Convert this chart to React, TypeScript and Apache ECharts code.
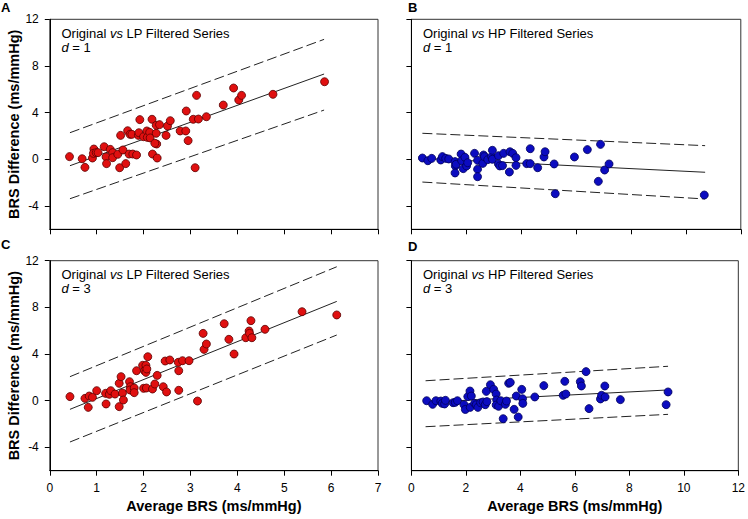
import React, { useEffect, useRef } from "react";
import * as echarts from "echarts";

// Panel A: Original vs LP filtered, d = 1
const aPoints: number[][] = [
  [0.42, 0.23], [0.69, 0.05], [0.75, -0.69], [0.91, 0.11], [0.94, 0.88], [0.93, 0.51], [0.99, 0.57],
  [1.03, 0.57], [1.16, 1.08], [1.2, 0.2], [1.21, -0.37], [1.29, 0.85], [1.34, 0.57], [1.34, 0.14],
  [1.45, 0.43], [1.49, -0.72], [1.51, 2.05], [1.56, 0.8], [1.62, -0.37], [1.66, 2.45], [1.69, 0.45],
  [1.71, 2.14], [1.75, 2.14], [1.77, 0.45], [1.85, 0.37], [1.89, 2.05], [1.9, 2.28], [1.92, 3.4],
  [2.0, 1.94], [2.07, 2.43], [2.08, 1.88], [2.13, 2.31], [2.14, 1.83], [2.18, 3.43], [2.19, 0.45],
  [2.27, 2.23], [2.27, 2.91], [2.28, 1.31], [2.24, 1.37], [2.29, 0.11], [2.34, 2.97], [2.48, 2.05],
  [2.51, 2.85], [2.57, 3.31], [2.78, 2.43], [2.9, 2.43], [2.91, 4.14], [2.95, 1.6], [3.06, 3.43],
  [3.1, -0.72], [3.13, 5.48], [3.17, 3.45], [3.34, 3.65], [3.7, 4.65], [3.92, 6.11], [4.03, 5.08],
  [4.09, 5.48], [4.76, 5.57], [5.86, 6.65],
];
const aFit = [[0.43, -0.55], [5.85, 7.31]];
const aUpper = [[0.43, 2.28], [5.85, 10.28]];
const aLower = [[0.43, -3.38], [5.85, 4.22]];

// Panel B: Original vs HP filtered, d = 1
const bPoints: number[][] = [
  [0.4, 0.11], [0.6, -0.12], [0.74, 0.08], [1.07, -0.06], [1.13, 0.23], [1.25, 0.08], [1.36, 0.03],
  [1.59, -0.2], [1.6, -0.57], [1.59, -1.17], [1.63, -0.43], [1.81, 0.45], [1.83, -0.12], [1.89, -0.8],
  [1.95, 0.17], [2.01, -0.57], [2.05, -0.29], [2.3, 0.51], [2.41, -0.86], [2.41, -0.09], [2.41, -1.49],
  [2.6, -0.35], [2.63, 0.37], [2.66, 0.23], [2.78, -0.03], [2.92, 0.23], [2.95, 0.77], [2.95, 0.0],
  [3.17, 0.31], [3.17, -0.4], [3.22, -0.57], [3.32, -0.54], [3.36, 0.51], [3.57, -1.09], [3.59, 0.65],
  [3.69, 0.51], [3.81, 0.14], [3.81, -0.52], [4.2, -0.37], [4.33, 0.91], [4.33, -0.37], [4.6, -0.72],
  [4.83, 0.2], [4.87, 0.65], [5.2, -0.4], [5.24, -2.95], [5.94, 0.2], [6.41, 0.83], [6.81, -1.89],
  [6.89, 1.28], [7.04, -0.92], [7.2, -0.4], [10.67, -3.06],
];
const bFit = [[0.4, 0.08], [10.7, -1.11]];
const bUpper = [[0.4, 2.23], [10.7, 1.17]];
const bLower = [[0.4, -1.95], [10.7, -3.4]];

// Panel C: Original vs LP filtered, d = 3
const cPoints: number[][] = [
  [0.43, 0.35], [0.75, 0.2], [0.82, -0.57], [0.84, 0.4], [0.91, 0.29], [1.0, 0.86], [1.19, 0.63],
  [1.2, -0.28], [1.27, 0.55], [1.3, 0.86], [1.39, 0.57], [1.48, -0.51], [1.48, 1.49], [1.52, 2.06],
  [1.55, 0.66], [1.57, 0.06], [1.7, 1.63], [1.72, 1.2], [1.71, 0.92], [1.8, 1.09], [1.8, 0.69],
  [1.85, 2.57], [1.98, 3.03], [2.0, 1.06], [2.02, 2.57], [2.05, 3.03], [2.05, 2.43], [2.07, 2.72],
  [2.06, 1.09], [2.09, 3.77], [2.19, 1.0], [2.24, 1.43], [2.29, 2.17], [2.42, 1.2], [2.46, 3.4],
  [2.49, 0.75], [2.56, 3.49], [2.74, 3.29], [2.75, 2.57], [2.75, 0.89], [2.83, 3.43], [2.97, 3.43],
  [3.15, -0.03], [3.27, 5.77], [3.29, 4.4], [3.34, 4.86], [3.72, 6.6], [3.82, 5.26], [3.93, 4.0],
  [4.18, 5.4], [4.25, 5.97], [4.26, 5.77], [4.29, 6.86], [4.31, 5.4], [4.59, 6.12], [5.38, 7.63],
  [6.12, 7.35],
];
const cFit = [[0.43, -0.74], [6.12, 8.51]];
const cUpper = [[0.43, 2.06], [6.12, 11.48]];
const cLower = [[0.43, -3.54], [6.12, 5.63]];

// Panel D: Original vs HP filtered, d = 3
const dPoints: number[][] = [
  [0.56, 0.0], [0.78, -0.31], [0.9, 0.0], [1.08, -0.03], [1.13, -0.23], [1.22, -0.28], [1.25, 0.03],
  [1.53, -0.17], [1.61, -0.14], [1.69, 0.0], [1.93, -0.34], [1.98, -0.75], [2.07, 0.35], [2.15, 0.83],
  [2.16, -0.57], [2.2, 0.4], [2.32, -0.23], [2.38, -0.34], [2.44, -0.57], [2.54, -0.17], [2.63, -0.11],
  [2.71, -0.34], [2.75, 0.8], [2.77, -0.08], [2.9, 1.37], [3.02, 0.97], [3.11, 0.57], [3.13, 0.06],
  [3.11, -0.37], [3.2, -0.48], [3.28, 0.0], [3.37, -1.54], [3.45, -0.31], [3.49, -0.03], [3.57, 1.49],
  [3.63, 1.57], [3.77, -0.74], [3.85, 0.4], [3.92, -1.4], [4.05, 0.97], [4.08, 0.17], [4.09, -0.23],
  [4.53, 0.32], [4.86, 1.29], [5.57, 0.46], [5.63, 1.66], [5.67, 0.57], [6.2, 1.63], [6.24, 1.26],
  [6.41, 2.49], [6.52, -0.68], [6.94, 0.15], [6.98, 0.46], [7.1, 1.26], [7.11, 0.32], [7.67, 0.09],
  [9.35, -0.34], [9.42, 0.75],
];
const dFit = [[0.52, -0.14], [9.42, 0.92]];
const dUpper = [[0.52, 1.71], [9.42, 2.95]];
const dLower = [[0.52, -2.23], [9.42, -1.17]];

const yTicks = [-4, 0, 4, 8, 12];
const leftXMax = 7;
const rightXMax = 12;
const panelLetters = ["A", "B", "C", "D"];
const panelTitles = ["LP", "HP", "LP", "HP"];
const panelD = [1, 1, 3, 3];
const yAxisTitle = "BRS Difference (ms/mmHg)";
const xAxisTitle = "Average BRS (ms/mmHg)";

const FONT = "'Liberation Sans', Arial, sans-serif";

export default function App() {
  const ref = useRef<HTMLDivElement>(null);
  useEffect(() => {
    if (!ref.current) return;
    const chart = echarts.init(ref.current, undefined, { renderer: "svg" });

    const grids = [
      { left: 49.8, top: 19.3, width: 328.2, height: 210 },
      { left: 411.4, top: 19.3, width: 329.4, height: 210 },
      { left: 49.8, top: 260.7, width: 328.2, height: 210 },
      { left: 411.4, top: 260.7, width: 329.4, height: 210 },
    ].map((g) => ({ ...g, show: true, borderColor: "#333", borderWidth: 1, backgroundColor: "transparent" }));

    const xAxes = [0, 1, 2, 3].map((i) => {
      const isLeft = i % 2 === 0;
      const isBottom = i >= 2;
      return {
        type: "value",
        gridIndex: i,
        min: 0,
        max: isLeft ? leftXMax : rightXMax,
        interval: isLeft ? 1 : 2,
        splitLine: { show: false },
        axisLine: { show: true, onZero: false, lineStyle: { color: "#000", width: 1 } },
        axisTick: { show: true, inside: false, length: 5, lineStyle: { color: "#000" } },
        axisLabel: { show: isBottom, color: "#000", fontSize: 12, fontFamily: FONT, margin: 11 },
        name: isBottom ? xAxisTitle : "",
        nameLocation: "middle",
        nameGap: 28,
        nameTextStyle: { color: "#000", fontSize: 14.5, fontWeight: "bold", fontFamily: FONT },
      };
    });

    const yAxes = [0, 1, 2, 3].map((i) => {
      const isLeft = i % 2 === 0;
      return {
        type: "value",
        gridIndex: i,
        min: -6,
        max: 12,
        splitLine: { show: false },
        axisLine: { show: true, onZero: false, lineStyle: { color: "#000", width: 1 } },
        axisTick: { show: true, inside: false, length: 5, customValues: yTicks, lineStyle: { color: "#000" } },
        axisLabel: { show: isLeft, color: "#000", fontSize: 12, fontFamily: FONT, margin: 11, customValues: yTicks },
        name: isLeft ? yAxisTitle : "",
        nameLocation: "middle",
        nameGap: 27,
        nameRotate: 90,
        nameTextStyle: { color: "#000", fontSize: 14.5, fontWeight: "bold", fontFamily: FONT },
      };
    });

    const pts = [aPoints, bPoints, cPoints, dPoints];
    const fits = [aFit, bFit, cFit, dFit];
    const ups = [aUpper, bUpper, cUpper, dUpper];
    const lows = [aLower, bLower, cLower, dLower];
    const series: any[] = [];
    for (let i = 0; i < 4; i++) {
      const red = i % 2 === 0;
      series.push({
        type: "line", xAxisIndex: i, yAxisIndex: i, data: ups[i], symbol: "none", silent: true, z: 2,
        lineStyle: { color: "#222", width: 1, type: [10, 4] },
      });
      series.push({
        type: "line", xAxisIndex: i, yAxisIndex: i, data: lows[i], symbol: "none", silent: true, z: 2,
        lineStyle: { color: "#222", width: 1, type: [10, 4] },
      });
      series.push({
        type: "line", xAxisIndex: i, yAxisIndex: i, data: fits[i], symbol: "none", silent: true, z: 2,
        lineStyle: { color: "#222", width: 1 },
      });
      series.push({
        type: "scatter", xAxisIndex: i, yAxisIndex: i, data: pts[i], symbolSize: 8, z: 5,
        itemStyle: red
          ? { color: "#e01010", borderColor: "#5a0000", borderWidth: 0.8, opacity: 1 }
          : { color: "#0c0cc0", borderColor: "#00005a", borderWidth: 0.8, opacity: 1 },
      });
    }

    const textPos = [
      [61.5, 33],
      [423, 33],
      [61.5, 274],
      [423, 274],
    ];
    const letterPos = [
      [1, 1],
      [408, 1],
      [1, 238],
      [408, 240],
    ];
    const rich = {
      n: { fontSize: 13, fontFamily: FONT, fill: "#000", color: "#000" },
      i: { fontSize: 13, fontFamily: FONT, fontStyle: "italic", fill: "#000", color: "#000" },
    };
    const graphic: any[] = [];
    for (let i = 0; i < 4; i++) {
      graphic.push({
        type: "text",
        x: textPos[i][0],
        y: textPos[i][1],
        style: {
          text: `{n|Original }{i|vs}{n| ${panelTitles[i]} Filtered Series}`,
          rich,
          verticalAlign: "middle",
          fill: "#000",
        },
      });
      graphic.push({
        type: "text",
        x: textPos[i][0],
        y: textPos[i][1] + 14,
        style: {
          text: `{i|d}{n| = ${panelD[i]}}`,
          rich,
          verticalAlign: "middle",
          fill: "#000",
        },
      });
      graphic.push({
        type: "text",
        x: letterPos[i][0],
        y: letterPos[i][1],
        style: {
          text: panelLetters[i],
          font: `bold 13px ${FONT}`,
          fill: "#000",
        },
      });
    }

    chart.setOption({
      animation: false,
      backgroundColor: "#fff",
      grid: grids,
      xAxis: xAxes,
      yAxis: yAxes,
      series,
      graphic,
    });
    return () => chart.dispose();
  }, []);
  return (
    <div
      ref={ref}
      style={{ position: "absolute", left: 0, top: 0, width: 748, height: 519 }}
    />
  );
}
